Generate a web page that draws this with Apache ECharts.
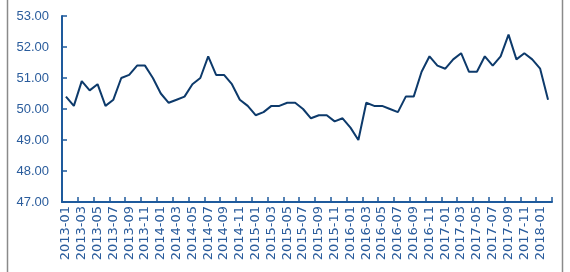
<!DOCTYPE html>
<html>
<head>
<meta charset="utf-8">
<script src="https://cdn.jsdelivr.net/npm/echarts@6/dist/echarts.min.js"></script>
<style>
html,body{margin:0;padding:0;background:#fff;}
#c{width:570px;height:272px;}
</style>
</head>
<body>
<div id="c"></div>
<script>
var months = [];
for (var y = 2013; y <= 2018; y++) {
  for (var m = 1; m <= 12; m++) {
    if (y === 2018 && m > 2) break;
    months.push(y + '-' + (m < 10 ? '0' + m : '' + m));
  }
}
var pmiValues = [
  50.4, 50.1, 50.9, 50.6, 50.8, 50.1, 50.3, 51.0, 51.1, 51.4, 51.4, 51.0,
  50.5, 50.2, 50.3, 50.4, 50.8, 51.0, 51.7, 51.1, 51.1, 50.8, 50.3, 50.1,
  49.8, 49.9, 50.1, 50.1, 50.2, 50.2, 50.0, 49.7, 49.8, 49.8, 49.6, 49.7,
  49.4, 49.0, 50.2, 50.1, 50.1, 50.0, 49.9, 50.4, 50.4, 51.2, 51.7, 51.4,
  51.3, 51.6, 51.8, 51.2, 51.2, 51.7, 51.4, 51.7, 52.4, 51.6, 51.8, 51.6,
  51.3, 50.3
];
var yMin = 47, yMax = 53, yStep = 1;

var axisColor = '#1E5A9C';
var labelColor = '#2A5C9C';
var chart = echarts.init(document.getElementById('c'), null, {renderer: 'canvas'});
chart.setOption({
  animation: false,
  backgroundColor: '#fff',
  grid: {left: 62, right: 18, top: 16, bottom: 70, containLabel: false},
  xAxis: {
    type: 'category',
    data: months,
    boundaryGap: true,
    axisLine: {lineStyle: {color: axisColor, width: 2}},
    axisTick: {show: true, inside: true, interval: 1, length: 5, lineStyle: {color: axisColor, width: 1.5}},
    axisLabel: {
      interval: 1, rotate: 90, margin: 4,
      color: labelColor, fontFamily: 'DejaVu Sans', fontSize: 13
    },
    splitLine: {show: false}
  },
  yAxis: {
    type: 'value',
    min: yMin, max: yMax, interval: yStep,
    axisLine: {show: true, lineStyle: {color: axisColor, width: 2}},
    axisTick: {show: true, inside: true, length: 5, lineStyle: {color: axisColor, width: 1.5}},
    axisLabel: {
      margin: 13, color: labelColor, fontFamily: 'Liberation Sans, Arial, sans-serif', fontSize: 13,
      formatter: function (v) { return v.toFixed(2); }
    },
    splitLine: {show: false}
  },
  series: [{
    type: 'line',
    data: pmiValues,
    symbol: 'none',
    lineStyle: {color: '#0D3A6B', width: 2}
  }],
  graphic: [
    {type: 'line', shape: {x1: 7.5, y1: 0, x2: 7.5, y2: 272}, style: {stroke: '#8a8a8a', lineWidth: 1.5}},
    {type: 'line', shape: {x1: 562.5, y1: 0, x2: 562.5, y2: 272}, style: {stroke: '#8a8a8a', lineWidth: 1.5}}
  ]
});
</script>
</body>
</html>
